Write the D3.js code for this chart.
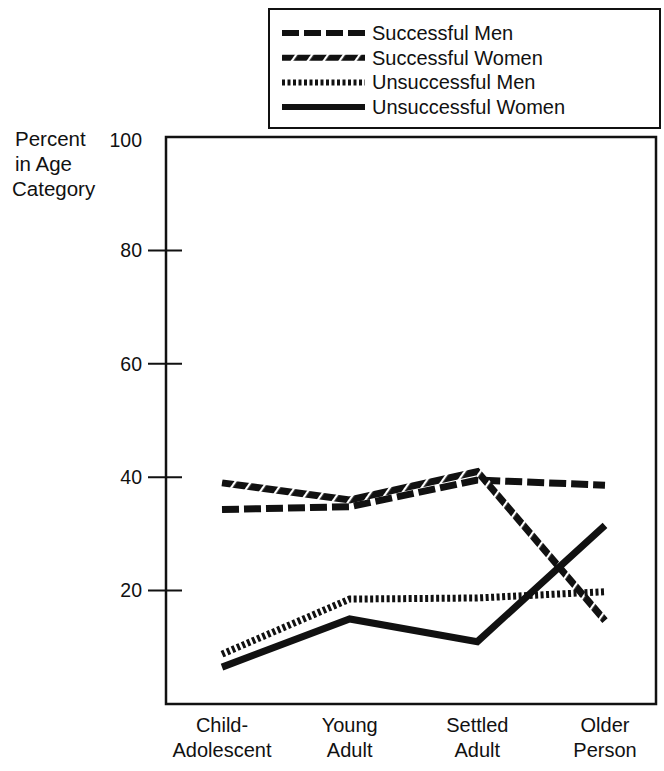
<!DOCTYPE html>
<html>
<head>
<meta charset="utf-8">
<script src="https://cdn.jsdelivr.net/npm/d3@7"></script>
<style>
  body { margin: 0; background: #fff; }
  text { font-family: "Liberation Sans", Arial, sans-serif; fill: #111; }
</style>
</head>
<body>
<script>
var categories = [['Child-', 'Adolescent'], ['Young', 'Adult'], ['Settled', 'Adult'], ['Older', 'Person']];
var yTicks = [20, 40, 60, 80];
var successfulMen = [34.3, 34.8, 39.5, 38.6];
var successfulWomen = [39.0, 36.0, 41.0, 14.7];
var unsuccessfulMen = [8.8, 18.5, 18.7, 19.8];
var unsuccessfulWomen = [6.5, 15.0, 11.0, 31.5];
var seriesNames = ['Successful Men', 'Successful Women', 'Unsuccessful Men', 'Unsuccessful Women'];

var W = 664, H = 771;

var svg = d3.select('body').append('svg')
    .attr('width', W)
    .attr('height', H);

// slanted white cuts for the "Successful Women" line
var hatch = svg.append('defs').append('pattern')
    .attr('id', 'hatch')
    .attr('patternUnits', 'userSpaceOnUse')
    .attr('width', 13).attr('height', 13)
    .attr('patternTransform', 'rotate(35)');
hatch.append('rect')
    .attr('width', 13).attr('height', 13)
    .attr('fill', '#111');
hatch.append('rect')
    .attr('x', 0).attr('width', 2.2).attr('height', 13)
    .attr('fill', '#fff');

var x = d3.scalePoint()
    .domain(d3.range(categories.length))
    .range([222, 605]);

var y = d3.scaleLinear()
    .domain([0, 100])
    .range([704, 137]);

var styles = [
    {data: successfulMen, dash: '17,5', stroke: '#111'},
    {data: successfulWomen, dash: null, stroke: 'url(#hatch)'},
    {data: unsuccessfulMen, dash: '3,2.5', stroke: '#111'},
    {data: unsuccessfulWomen, dash: null, stroke: '#111'}
];

// plot frame
svg.append('rect')
    .attr('x', 166).attr('y', y(100))
    .attr('width', 656 - 166).attr('height', y(0) - y(100))
    .attr('fill', 'none')
    .attr('stroke', '#111')
    .attr('stroke-width', 2.5);

// y ticks crossing the axis
yTicks.forEach(function(t) {
    svg.append('path')
        .attr('d', 'M' + [148, y(t)] + ' L' + [182, y(t)])
        .attr('stroke', '#111')
        .attr('stroke-width', 2);
});

var yLabels = yTicks.concat([100]);
svg.selectAll('.ylab').data(yLabels).enter().append('text')
    .attr('x', 142)
    .attr('y', function(d) { return d == 100 ? y(d) + 3 : y(d); })
    .attr('dy', '0.35em')
    .attr('text-anchor', 'end')
    .style('font-size', '19.5px')
    .text(function(d) { return d; });

var title = ['Percent', 'in Age', 'Category'];
title.forEach(function(s, i) {
    svg.append('text')
        .attr('x', i == 2 ? 12 : 15)
        .attr('y', 139 + i * 25)
        .attr('dy', '0.35em')
        .style('font-size', '20.5px')
        .text(s);
});

// category labels
categories.forEach(function(c, i) {
    c.forEach(function(s, j) {
        svg.append('text')
            .attr('x', x(i))
            .attr('y', 725 + j * 25)
            .attr('dy', '0.35em')
            .attr('text-anchor', 'middle')
            .style('font-size', '20px')
            .text(s);
    });
});

var line = d3.line()
    .x(function(d, i) { return x(i); })
    .y(function(d) { return y(d); });

styles.forEach(function(s) {
    svg.append('path')
        .attr('d', line(s.data))
        .attr('fill', 'none')
        .attr('stroke', s.stroke)
        .attr('stroke-width', 7)
        .attr('stroke-dasharray', s.dash);
});

// legend
var legend = svg.append('g');
legend.append('rect')
    .attr('x', 269).attr('y', 9)
    .attr('width', 660 - 269).attr('height', 128 - 9)
    .attr('fill', '#fff')
    .attr('stroke', '#111')
    .attr('stroke-width', 2);

styles.forEach(function(s, i) {
    var ly = 33 + i * 24.7;
    legend.append('path')
        .attr('d', 'M' + [282, ly] + ' L' + [365, ly])
        .attr('stroke', s.stroke)
        .attr('stroke-width', 6)
        .attr('stroke-dasharray', s.dash);
    legend.append('text')
        .attr('x', 372)
        .attr('y', ly)
        .attr('dy', '0.35em')
        .style('font-size', '20px')
        .text(seriesNames[i]);
});
</script>
</body>
</html>
